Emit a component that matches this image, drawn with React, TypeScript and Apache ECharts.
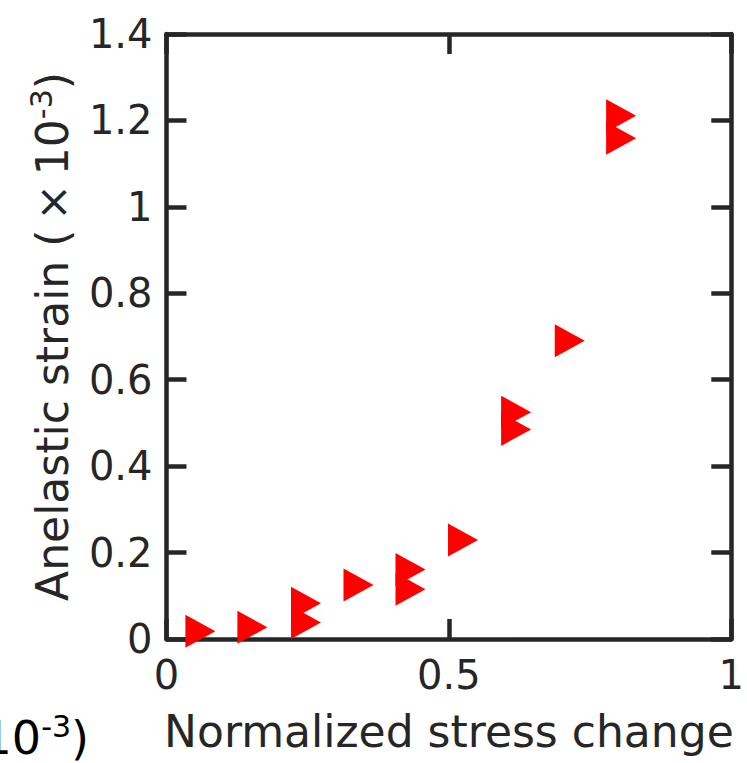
import React, { useEffect, useRef } from "react";
import * as echarts from "echarts";

const stressChange = [0.060, 0.152, 0.247, 0.247, 0.340, 0.432, 0.432, 0.525, 0.619, 0.619, 0.714, 0.805, 0.805];
const anelasticStrain = [0.018, 0.027, 0.038, 0.083, 0.125, 0.115, 0.161, 0.229, 0.485, 0.525, 0.690, 1.159, 1.211];
const xTicks = [0, 0.5, 1];
const yTicks = [0, 0.2, 0.4, 0.6, 0.8, 1, 1.2, 1.4];

const INK = "#262626";
const FONT = "DejaVu Sans";

export default function App() {
  const ref = useRef<HTMLDivElement>(null);
  useEffect(() => {
    document.body.style.margin = "0";
    const chart = echarts.init(ref.current!, undefined, { renderer: "svg" });
    const points = stressChange.map((x, i) => [x, anelasticStrain[i]]);
    const axisLine = { show: true, onZero: false, lineStyle: { color: INK, width: 4.5 } };
    const axisTick = { show: true, inside: true, length: 20, lineStyle: { color: INK, width: 4.5 } };
    chart.setOption({
      animation: false,
      backgroundColor: "#ffffff",
      grid: { left: 166.5, right: 10, top: 34, bottom: 124 },
      xAxis: [
        {
          type: "value",
          position: "bottom",
          min: 0,
          max: 1,
          interval: 0.5,
          axisLine,
          axisTick,
          splitLine: { show: false },
          axisLabel: {
            color: INK,
            fontFamily: FONT,
            fontSize: 40,
            margin: 16,
            formatter: (v: number) => (xTicks.includes(v) ? String(v) : ""),
          },
          name: "Normalized stress change",
          nameLocation: "middle",
          nameGap: 70,
          nameTextStyle: { color: INK, fontFamily: FONT, fontSize: 44 },
        },
        {
          type: "value",
          position: "top",
          min: 0,
          max: 1,
          interval: 0.5,
          axisLine,
          axisTick,
          splitLine: { show: false },
          axisLabel: { show: false },
        },
      ],
      yAxis: [
        {
          type: "value",
          position: "left",
          min: 0,
          max: 1.4,
          interval: 0.2,
          axisLine,
          axisTick,
          splitLine: { show: false },
          axisLabel: {
            color: INK,
            fontFamily: FONT,
            fontSize: 40,
            margin: 14,
            formatter: (v: number) => {
              const t = yTicks.find((k) => Math.abs(k - v) < 1e-9);
              return t === undefined ? "" : String(t);
            },
          },
          name: "{n|Anelastic strain (\u2009×\u200910}{s|-3}{n|)}",
          nameLocation: "middle",
          nameGap: 88,
          nameTextStyle: {
            color: INK,
            fontFamily: FONT,
            fontSize: 44,
            rich: {
              n: { color: INK, fontFamily: FONT, fontSize: 44, lineHeight: 52 },
              s: { color: INK, fontFamily: FONT, fontSize: 30, verticalAlign: "top", lineHeight: 40 },
            },
          },
        },
        {
          type: "value",
          position: "right",
          min: 0,
          max: 1.4,
          interval: 0.2,
          axisLine,
          axisTick,
          splitLine: { show: false },
          axisLabel: { show: false },
        },
      ],
      graphic: [
        {
          type: "text",
          right: 747 - 89,
          top: 711,
          style: {
            text: "{n|(×10}{s|-3}{n|)}",
            rich: {
              n: { fill: "#000000", fontFamily: FONT, fontSize: 46, lineHeight: 54 },
              s: { fill: "#000000", fontFamily: FONT, fontSize: 30, verticalAlign: "top", lineHeight: 40 },
            },
          },
        },
      ],
      series: [
        {
          type: "scatter",
          xAxisIndex: 0,
          yAxisIndex: 0,
          data: points,
          symbol: "path://M0,0L30,16.5L0,33Z",
          symbolSize: [30, 33],
          itemStyle: { color: "#ff0000", opacity: 1 },
          z: 1,
        },
      ],
    });
    return () => chart.dispose();
  }, []);
  return <div ref={ref} style={{ width: 747, height: 763, position: "absolute", left: 0, top: 0 }} />;
}
